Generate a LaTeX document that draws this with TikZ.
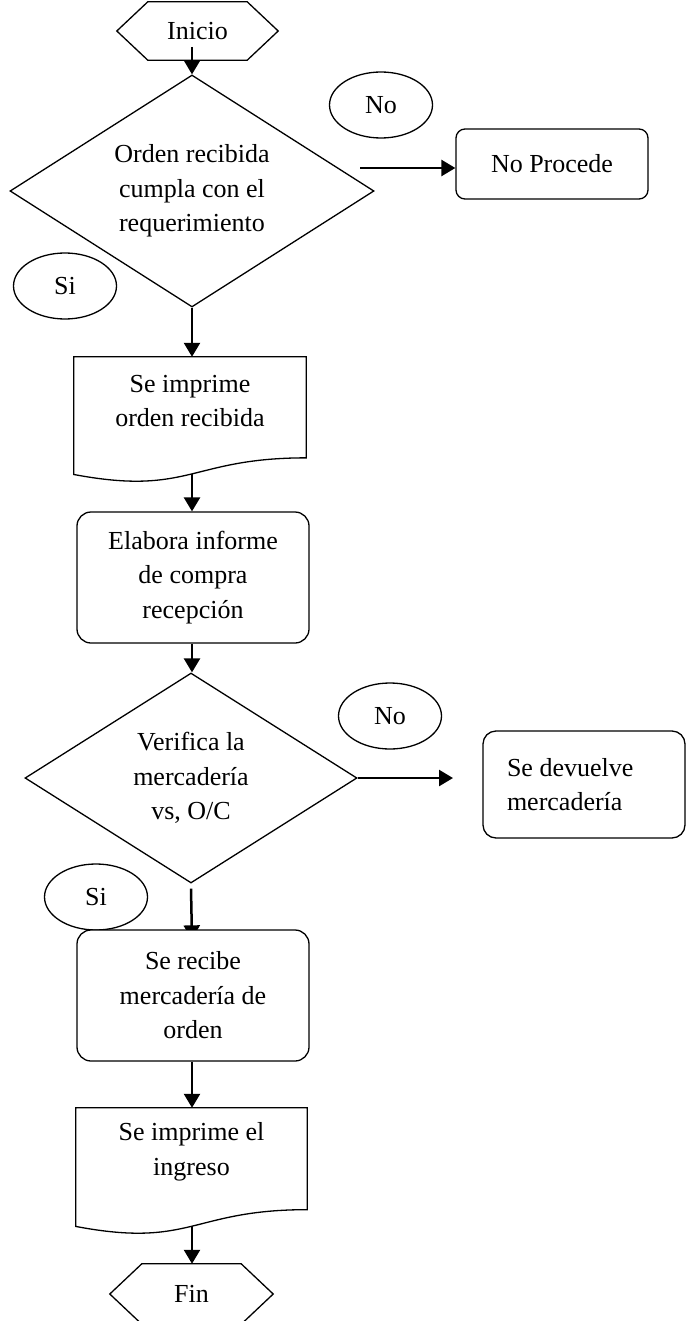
\documentclass[tikz,border=0pt]{standalone}
\usepackage{fontspec}
\setmainfont{Liberation Serif}
\usetikzlibrary{shapes.geometric,arrows.meta,calc,backgrounds}
\newcommand{\docoutline}[2]{% #1 node name, #2 full height
  \draw[outline] (#1.north west) -- (#1.north east) -- ++(0,0.802*#2)
    .. controls ($(#1.north)+(0,0.802*#2)$) and ($(#1.north)+(0,1.1075*#2)$) ..
    ($(#1.north west)+(0,0.934*#2)$) -- cycle;}
\newcommand{\hexoutline}[2]{% #1 node name, #2 slant
  \draw[outline] (#1.west) -- ([xshift=#2]#1.north west) -- ([xshift=-#2]#1.north east)
    -- (#1.east) -- ([xshift=-#2]#1.south east) -- ([xshift=#2]#1.south west) -- cycle;}
\begin{document}
\begin{tikzpicture}[x=1pt,y=-1pt,
  every node/.style={font=\fontsize{26}{34.5}\selectfont},
  outline/.style={draw=black,line width=1.3pt,line join=miter},
  arr/.style={line width=2.5pt,-{Triangle[length=14pt,width=16pt]}},
  decision/.style={outline,shape=diamond,inner sep=0pt,align=center,fill=white},
  proc/.style={outline,rectangle,rounded corners=13pt,inner sep=0pt,align=center,fill=white},
  answer/.style={outline,ellipse,minimum width=103pt,minimum height=66pt,inner sep=0pt},
  docbox/.style={rectangle,inner sep=0pt,minimum width=232pt,minimum height=88pt,align=center},
  term/.style={rectangle,inner sep=0pt,align=center}
]
\useasboundingbox (0,0) rectangle (688,1321);

% Nodes
\node[term,minimum width=161pt,minimum height=58pt] (ini) at (197.5,31) {Inicio};
\hexoutline{ini}{31pt}

\node[decision,minimum width=364pt,minimum height=232pt,aspect=1.57] (q1) at (192,191)
  {Orden recibida\\cumpla con el\\requerimiento};
\node[answer] (no1) at (381,105) {No};
\node[proc,minimum width=192pt,minimum height=70pt,rounded corners=9pt] (np) at (552,164) {No Procede};
\node[answer] (si1) at (65,286) {Si};

\node[docbox] (d1) at (190,401) {Se imprime\\orden recibida};
\docoutline{d1}{126}

\node[proc,minimum width=232pt,minimum height=131pt,rounded corners=14pt] (r1) at (193,577.5)
  {Elabora informe\\de compra\\recepción};

\node[decision,minimum width=332pt,minimum height=210pt,aspect=1.58] (q2) at (191,778)
  {Verifica la\\mercadería\\vs, O/C};
\node[answer] (no2) at (390,716) {No};
\node[proc,minimum width=202pt,minimum height=107pt,align=flush left,text width=154pt] (sd) at (584,784.5)
  {Se devuelve\\mercadería};
\node[answer] (si2) at (96,897) {Si};

\node[proc,minimum width=232pt,minimum height=131pt,rounded corners=14pt] (r2) at (193,995.5)
  {Se recibe\\mercadería de\\orden};

\node[docbox,minimum width=231pt] (d2) at (191.5,1152) {Se imprime el\\ingreso};
\docoutline{d2}{127}

\node[term,minimum width=163pt,minimum height=60pt] (fin) at (191.5,1294) {Fin};
\hexoutline{fin}{32pt}

% Connectors
\coordinate (a0) at (192,47);
\draw[arr] (a0) -- (a0 |- q1.north);
\draw[arr] (q1.south) -- (q1.south |- d1.north);
\coordinate (b1) at (360,168);
\draw[arr] (b1) -- (b1 -| np.west);
\coordinate (d1b) at ($(d1.north)+(2,117)$);
\draw[arr] (d1b) -- (d1b |- r1.north);
\coordinate (r1b) at (r1.south -| q1.south);
\draw[arr] (r1b) -- (r1b |- q2.north);
\coordinate (b2) at (453,778);
\draw[arr] (q2.east) -- (b2);
\begin{scope}[on background layer]
  \draw[arr] ($(q2.south)+(0,5)$) -- ($(r2.north)+(-1,10)$);
\end{scope}
\coordinate (r2b) at (r2.south -| q1.south);
\draw[arr] (r2b) -- (r2b |- d2.north);
\coordinate (d2b) at ($(d2.north)+(0.5,118)$);
\draw[arr] (d2b) -- (d2b |- fin.north);
\end{tikzpicture}
\end{document}
